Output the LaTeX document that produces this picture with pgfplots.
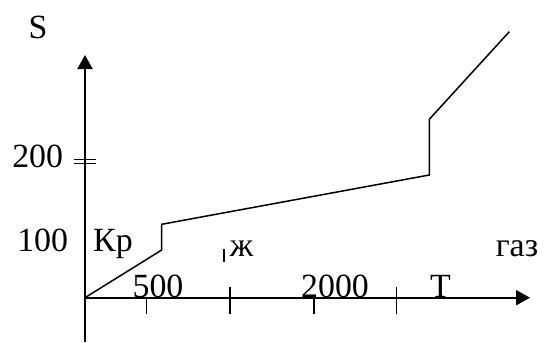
\documentclass[border=0pt]{standalone}
\usepackage{fontspec}
\setmainfont{Liberation Serif}
\usepackage{pgfplots}
\pgfplotsset{compat=1.18}
\usetikzlibrary{arrows.meta}
\begin{document}
\fontsize{34}{40}\selectfont
\begin{tikzpicture}[every node/.append style={font=\fontsize{34}{40}\selectfont}]
\begin{axis}[
  x=1bp, y=1bp,
  axis lines=middle,
  xmin=0, xmax=445, ymin=-44.3, ymax=242.7,
  clip=false,
  axis line style={line width=2bp, -{Triangle[length=14bp,width=15bp]}},
  every tick/.style={black, line width=1.5bp},
  xtick={61.7,145,229,311.7}, xticklabels={},
  tick align=outside, major tick length=16bp,
  extra x ticks={145,311.7}, extra x tick labels={},
  extra x tick style={tick align=inside, major tick length=10.5bp},
  ytick=\empty,
  extra y ticks={134.4,138.4}, extra y tick labels={},
  extra y tick style={tick align=center, major tick length=22bp},
]
\addplot[black, line width=1.5bp, mark=none] coordinates {(0,0) (76.7,47.7) (76.7,73.4) (344.3,122.7) (344.3,178.4) (424.3,266)};
\addplot[black, line width=1.3bp, mark=none] coordinates {(139,35.7) (139,48.7)};
\node[anchor=base, inner sep=0] at (axis cs:-47,259.4) {S};
\node[anchor=base east, inner sep=0] at (axis cs:-21.7,130) {200};
\node[anchor=base east, inner sep=0] at (axis cs:-16.7,46) {100};
\node[anchor=base west, inner sep=0] at (axis cs:8,46) {Кр};
\node[anchor=base, inner sep=0] at (axis cs:156.5,41.7) {ж};
\node[anchor=base, inner sep=0] at (axis cs:432,41) {газ};
\node[anchor=base, inner sep=0] at (axis cs:73,0.3) {500};
\node[anchor=base, inner sep=0] at (axis cs:250,0.3) {2000};
\node[anchor=base, inner sep=0] at (axis cs:355.5,0.3) {T};
\coordinate (bl) at (axis cs:-85,-44.3);
\coordinate (tr) at (axis cs:461,297.7);
\end{axis}
\pgfresetboundingbox
\useasboundingbox (bl) rectangle (tr);
\end{tikzpicture}
\end{document}
